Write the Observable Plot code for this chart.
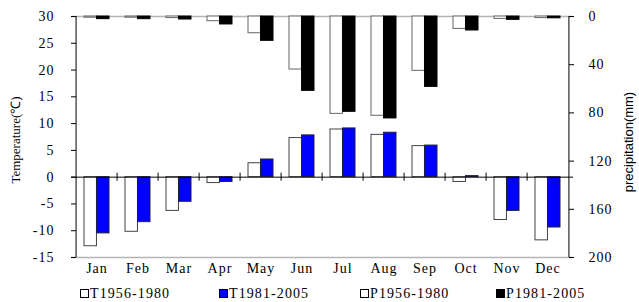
<!DOCTYPE html>
<html><head><meta charset="utf-8">
<script src="https://cdn.jsdelivr.net/npm/d3@7"></script>
<script src="https://cdn.jsdelivr.net/npm/@observablehq/plot@0.6"></script>
<style>
body{margin:0;background:#fff;}
#chart{position:relative;width:639px;height:302px;overflow:hidden;}
#chart svg{position:absolute;left:0;top:0;}
#chart svg text{font-family:'Liberation Serif','Times New Roman',serif !important;letter-spacing:1px;}
.ylab{position:absolute;white-space:nowrap;transform:translate(-50%,-50%) rotate(-90deg);}
.legend{position:absolute;top:285px;left:0;width:639px;height:17px;font-family:'Liberation Serif','Times New Roman',serif;font-size:14px;letter-spacing:1.1px;}
.item{position:absolute;top:0;display:flex;align-items:center;height:17px;}
.sw{display:inline-block;width:9px;height:9px;border:1px solid #000;margin-right:1px;box-sizing:border-box;}
</style></head><body><div id="chart"></div>
<script>
const months = ["Jan","Feb","Mar","Apr","May","Jun","Jul","Aug","Sep","Oct","Nov","Dec"];
const t1956 = [-12.9,-10.2,-6.3,-1.1,2.6,7.3,8.9,7.9,5.8,-0.9,-8.0,-11.8];
const t1981 = [-10.5,-8.4,-4.6,-0.9,3.3,7.8,9.1,8.3,5.9,0.2,-6.3,-9.4];
const p1956 = [1.0,1.0,1.3,3.9,13.9,44.0,80.8,82.4,45.1,10.3,2.0,1.3];
const p1981 = [2.2,2.2,2.5,6.6,20.2,61.7,79.1,84.6,58.4,11.6,2.8,1.5];
const seriesNames = ["T1956-1980","T1981-2005","P1956-1980","P1981-2005"];
const seriesFill = ["#ffffff","#0000ff","#ffffff","#000000"];
const tempTicks = [-15,-10,-5,0,5,10,15,20,25,30];
const precipTicks = [0,40,80,120,160,200];
const tempLabel = "Temperature(\u2103)";
const precipLabel = "precipitation(mm)";

const W = 639, H = 282, mL = 71, mR = 66, mT = 16, mB = 25;
const tMin = -15, tMax = 30, pMax = 200;
const toT = p => tMax - p * (tMax - tMin) / pMax;
const toP = t => Math.round((tMax - t) * pMax / (tMax - tMin));
const step = (W - mL - mR) / months.length;
const bw = step * 0.6;

const rows = months.map((m, i) => ({month: m, ta: t1956[i], tb: t1981[i], pa: p1956[i], pb: p1981[i]}));
const serif = "'Liberation Serif', 'Times New Roman', serif";

const plot = Plot.plot({
  width: W, height: H,
  marginLeft: mL, marginRight: mR, marginTop: mT, marginBottom: mB,
  style: {fontFamily: serif, fontSize: "14px", background: "white", overflow: "visible"},
  x: {domain: months, paddingInner: 0.4, paddingOuter: 0.2, axis: null},
  y: {domain: [tMin, tMax], axis: null},
  marks: [
    Plot.ruleY([tMin, tMax], {stroke: "#b5b5b5", strokeWidth: 1.5}),
    Plot.barY(rows, {x: "month", y1: 0, y2: "ta", fill: seriesFill[0], stroke: "#444", strokeWidth: 1, insetRight: bw / 2}),
    Plot.barY(rows, {x: "month", y1: 0, y2: "tb", fill: seriesFill[1], stroke: "#202040", strokeWidth: 1, insetLeft: bw / 2}),
    Plot.barY(rows, {x: "month", y1: tMax, y2: d => toT(d.pa), fill: seriesFill[2], stroke: "#666", strokeWidth: 1, insetRight: bw / 2}),
    Plot.barY(rows, {x: "month", y1: tMax, y2: d => toT(d.pb), fill: seriesFill[3], stroke: "#000", strokeWidth: 1, insetLeft: bw / 2}),
    Plot.ruleY([0], {stroke: "#000", strokeWidth: 1}),
    Plot.ruleX(months.slice(1), {x: d => d, dx: -step / 2, y1: -0.75, y2: 0.75, stroke: "#000", strokeWidth: 1}),
    Plot.ruleX([months[0]], {x: d => d, dx: -step / 2, y1: tMin, y2: tMax, stroke: "#000", strokeWidth: 1}),
    Plot.ruleX([months[months.length - 1]], {x: d => d, dx: step / 2, y1: tMin, y2: tMax, stroke: "#000", strokeWidth: 1}),
    Plot.text(months, {x: d => d, frameAnchor: "bottom", dy: 15, fontSize: 14, fontFamily: serif, fill: "#000"}),
    Plot.axisY({anchor: "left", ticks: tempTicks, tickSize: -5, tickPadding: 22, fontSize: 14, fontFamily: serif, label: null, tickFormat: d => d}),
    Plot.axisY({anchor: "right", ticks: precipTicks.map(toT), tickSize: -5, tickPadding: 20, fontSize: 14, fontFamily: serif, label: null, tickFormat: toP})
  ]
});

const chart = document.getElementById("chart");
chart.appendChild(plot);

const l1 = document.createElement("div");
l1.className = "ylab";
l1.style.left = "15px"; l1.style.top = "140px";
l1.style.fontFamily = serif; l1.style.fontSize = "13px";
l1.textContent = tempLabel;
chart.appendChild(l1);

const l2 = document.createElement("div");
l2.className = "ylab";
l2.style.left = "628px"; l2.style.top = "142px";
l2.style.fontFamily = "'Liberation Sans', Arial, sans-serif"; l2.style.fontSize = "13px";
l2.textContent = precipLabel;
chart.appendChild(l2);

const legend = document.createElement("div");
legend.className = "legend";
const legendLeft = [80, 219, 360, 496];
seriesNames.forEach((name, i) => {
  const it = document.createElement("div");
  it.className = "item";
  it.style.left = legendLeft[i] + "px";
  const sw = document.createElement("span");
  sw.className = "sw";
  sw.style.background = seriesFill[i];
  it.appendChild(sw);
  const tx = document.createElement("span");
  tx.textContent = name;
  it.appendChild(tx);
  legend.appendChild(it);
});
chart.appendChild(legend);
</script>
</body></html>
